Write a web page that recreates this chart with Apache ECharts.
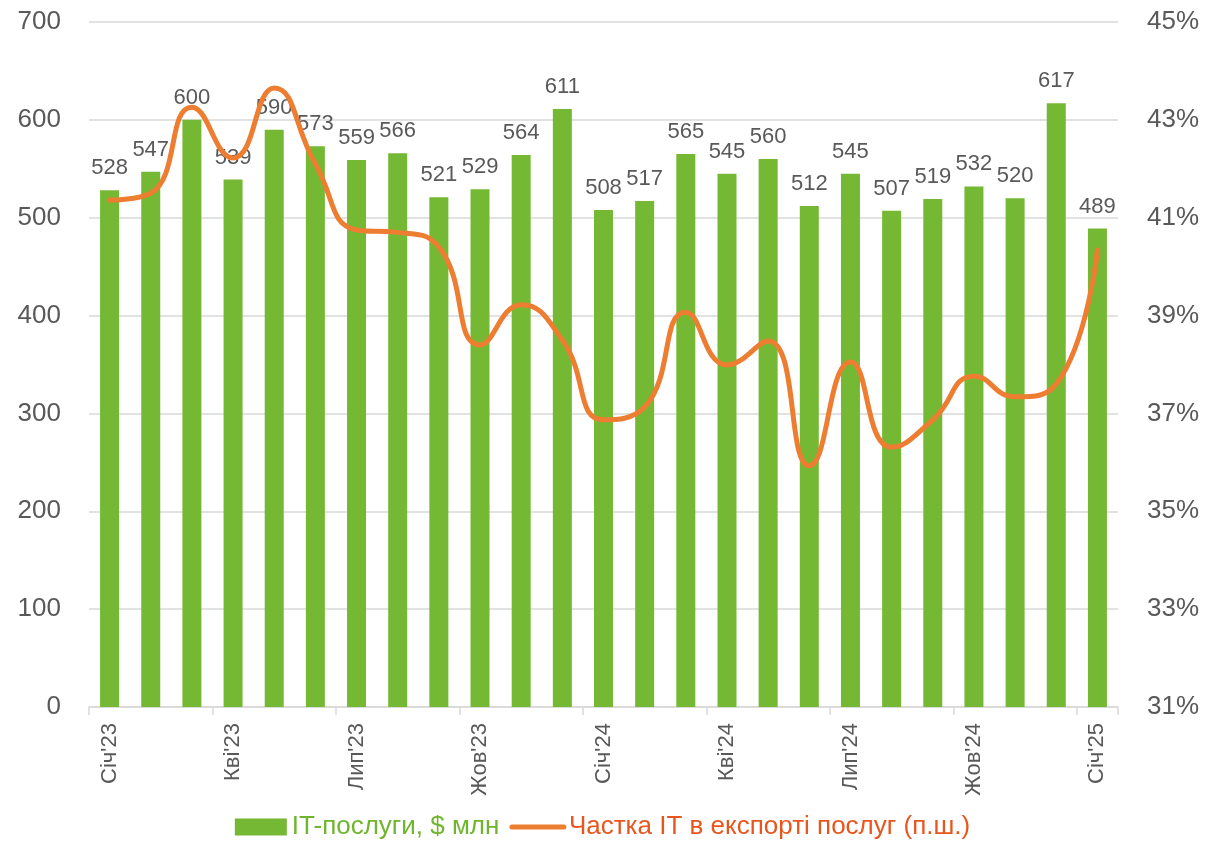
<!DOCTYPE html>
<html>
<head>
<meta charset="utf-8">
<script src="https://cdn.jsdelivr.net/npm/echarts@6/dist/echarts.min.js"></script>
<style>
  html, body { margin: 0; padding: 0; background: #fff; }
  #chart { width: 1205px; height: 849px; }
</style>
</head>
<body>
<div id="chart"></div>
<script>
const months = [
  "Січ'23", "Лют'23", "Бер'23", "Кві'23", "Тра'23", "Чер'23", "Лип'23", "Сер'23", "Вер'23",
  "Жов'23", "Лис'23", "Гру'23", "Січ'24", "Лют'24", "Бер'24", "Кві'24", "Тра'24", "Чер'24",
  "Лип'24", "Сер'24", "Вер'24", "Жов'24", "Лис'24", "Гру'24", "Січ'25"
]
// IT services exports, $ mln
const itServices = [528, 547, 600, 539, 590, 573, 559, 566, 521, 529, 564, 611, 508, 517,
  565, 545, 560, 512, 545, 507, 519, 532, 520, 617, 489]
// share of IT in services exports, % (right axis)
const itShare = [41.36, 41.5, 43.26, 42.22, 43.65, 42.1, 40.75, 40.7, 40.4, 38.4, 39.22, 38.5,
  36.87, 37.13, 39.07, 37.99, 38.48, 35.93, 38.05, 36.31, 36.87, 37.76, 37.34, 37.6, 40.34]
const leftTicks = { min: 0, max: 700, step: 100 }
const rightTicks = { min: 31, max: 45, step: 2 }

const textGray = '#595959'
const gridColor = '#d9d9d9'
const barColor = '#75B833'
const lineColor = '#ED7D31'

const chart = echarts.init(document.getElementById('chart'), null, { renderer: 'canvas' })

chart.setOption({
  animation: false,
  textStyle: { fontFamily: 'Liberation Sans, Arial, sans-serif' },
  grid: { left: 89, right: 87, top: 22, bottom: 142 },
  legend: {
    bottom: 4,
    left: 'center',
    itemWidth: 52,
    itemHeight: 17,
    itemGap: 10,
    textStyle: { fontSize: 26 },
    data: [
      { name: 'IT-послуги, $ млн', icon: 'rect', textStyle: { color: '#70B52E' } },
      {
        name: 'Частка IT в експорті послуг (п.ш.)',
        textStyle: { color: '#E8561E' },
        itemStyle: { color: 'rgba(0,0,0,0)', borderColor: 'rgba(0,0,0,0)', borderWidth: 0 },
        lineStyle: { width: 5, cap: 'round' },
      },
    ],
  },
  xAxis: {
    type: 'category',
    data: months,
    axisLine: { lineStyle: { color: gridColor, width: 1.5 } },
    axisTick: { show: true, interval: 2, length: 8, lineStyle: { color: gridColor, width: 1.5 } },
    axisLabel: { interval: 2, rotate: 90, margin: 16, fontSize: 22, color: textGray },
  },
  yAxis: [
    {
      type: 'value',
      min: leftTicks.min,
      max: leftTicks.max,
      interval: leftTicks.step,
      axisLine: { show: false },
      axisTick: { show: false },
      axisLabel: { fontSize: 26, color: textGray, margin: 28 },
      splitLine: { lineStyle: { color: gridColor, width: 1.5 } },
    },
    {
      type: 'value',
      position: 'right',
      min: rightTicks.min,
      max: rightTicks.max,
      interval: rightTicks.step,
      axisLine: { show: false },
      axisTick: { show: false },
      axisLabel: { fontSize: 26, color: textGray, margin: 29, formatter: '{value}%' },
      splitLine: { show: false },
    },
  ],
  series: [
    {
      name: 'IT-послуги, $ млн',
      type: 'bar',
      data: itServices,
      barWidth: 19,
      itemStyle: { color: barColor },
      label: {
        show: true,
        position: 'top',
        distance: 11,
        fontSize: 22,
        color: textGray,
      },
    },
    {
      name: 'Частка IT в експорті послуг (п.ш.)',
      type: 'line',
      yAxisIndex: 1,
      data: itShare,
      smooth: 0.5,
      symbol: 'none',
      lineStyle: { color: lineColor, width: 5, cap: 'round' },
      itemStyle: { color: lineColor },
      z: 5,
    },
  ],
})
</script>
</body>
</html>
